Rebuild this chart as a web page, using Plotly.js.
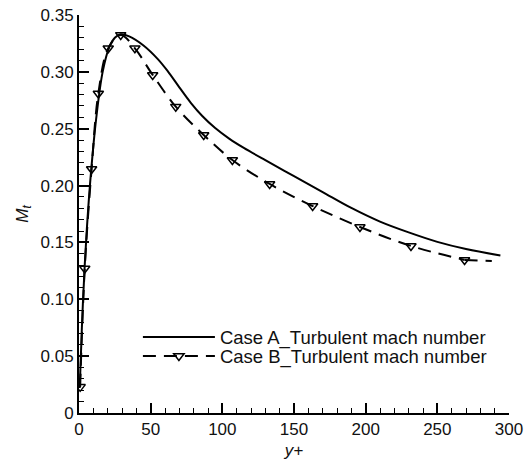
<!DOCTYPE html>
<html>
<head>
<meta charset="utf-8">
<script src="https://cdn.plot.ly/plotly-3.0.1.min.js"></script>
<style>html,body{margin:0;padding:0;background:#fff;}#chart{width:531px;height:461px;}</style>
</head>
<body>
<div id="chart"></div>
<script>
// Case A: solid line
const caseA_x = [0.5, 2, 4, 6, 8.4, 11.9, 16.5, 21.2, 25, 29, 35, 45, 55, 62, 70, 78, 86, 95, 105, 115, 130, 150, 170, 190, 210, 230, 250, 270, 294];
const caseA_y = [0.022, 0.075, 0.13, 0.172, 0.212, 0.258, 0.300, 0.322, 0.330, 0.333, 0.3312, 0.3232, 0.3112, 0.3004, 0.2864, 0.2728, 0.2612, 0.2506, 0.2411, 0.2331, 0.2223, 0.2083, 0.1943, 0.1803, 0.1683, 0.1588, 0.1505, 0.1442, 0.1385];
// Case B: dashed line with triangle markers
const caseB_x = [0.8, 4, 8.8, 13.5, 20.4, 29.1, 39, 51.4, 67.5, 87, 107, 133, 163, 196, 231.6, 269];
const caseB_y = [0.023, 0.127, 0.2146, 0.281, 0.3207, 0.3325, 0.3207, 0.2973, 0.2694, 0.2445, 0.2225, 0.2014, 0.182, 0.1636, 0.1469, 0.1346];
// Case B: end of the dashed curve beyond the last marker
const caseB_tail_x = [269, 288];
const caseB_tail_y = [0.1346, 0.1337];

const xTicks = [0, 50, 100, 150, 200, 250, 300];
const xTickText = ['0', '50', '100', '150', '200', '250', '300'];
const yTicks = [0, 0.05, 0.10, 0.15, 0.20, 0.25, 0.30, 0.35];
const yTickText = ['0', '0.05', '0.10', '0.15', '0.20', '0.25', '0.30', '0.35'];
const seriesNames = ['Case A_Turbulent mach number', 'Case B_Turbulent mach number'];

const FONT = 'Arial, "Liberation Sans", Helvetica, sans-serif';
const dash = '13px,8px';

const traces = [
  {
    x: caseA_x, y: caseA_y, name: seriesNames[0], type: 'scatter', mode: 'lines', legend: 'legend',
    line: {color: '#000', width: 2, shape: 'spline', smoothing: 1}
  },
  {
    x: caseB_x, y: caseB_y, name: seriesNames[1], type: 'scatter', mode: 'lines+markers', legend: 'legend2',
    line: {color: '#000', width: 2, dash: dash, shape: 'spline', smoothing: 1},
    marker: {symbol: 'triangle-down-open', size: 9, color: '#000', line: {color: '#000', width: 1.5}}
  },
  {
    x: caseB_tail_x, y: caseB_tail_y, type: 'scatter', mode: 'lines', showlegend: false, hoverinfo: 'skip',
    line: {color: '#000', width: 2, dash: dash}
  }
];

const axisCommon = {
  showgrid: false, zeroline: false, showline: true, linecolor: '#000', linewidth: 2,
  ticks: 'inside', ticklen: 10, tickwidth: 2, tickcolor: '#000', mirror: false,
  tickfont: {family: FONT, size: 17, color: '#111'}
};

const legendCommon = {
  xanchor: 'left', yanchor: 'top', x: 0.137,
  bgcolor: 'rgba(0,0,0,0)', borderwidth: 0,
  font: {family: FONT, size: 18.5, color: '#111'},
  itemwidth: 72
};

const layout = {
  width: 531, height: 461,
  margin: {l: 79, r: 22, t: 15, b: 48},
  paper_bgcolor: '#fff', plot_bgcolor: '#fff',
  showlegend: true,
  legend: Object.assign({}, legendCommon, {y: 0.2375}),
  legend2: Object.assign({}, legendCommon, {y: 0.1897}),
  xaxis: Object.assign({}, axisCommon, {
    range: [0, 300], tickmode: 'array', tickvals: xTicks, ticktext: xTickText,
    minor: {dtick: 10, ticks: 'inside', ticklen: 5, tickwidth: 1, tickcolor: '#000'},
    title: {text: '<i>y+</i>', font: {family: FONT, size: 17, color: '#111'}, standoff: 6}
  }),
  yaxis: Object.assign({}, axisCommon, {
    range: [0, 0.35], tickmode: 'array', tickvals: yTicks, ticktext: yTickText,
    minor: {dtick: 0.01, ticks: 'inside', ticklen: 5, tickwidth: 1, tickcolor: '#000'},
    title: {text: '<i>M<sub>t</sub></i>', font: {family: FONT, size: 17, color: '#111'}, standoff: 8}
  })
};

Plotly.newPlot('chart', traces, layout, {displayModeBar: false, staticPlot: true});
</script>
</body>
</html>
